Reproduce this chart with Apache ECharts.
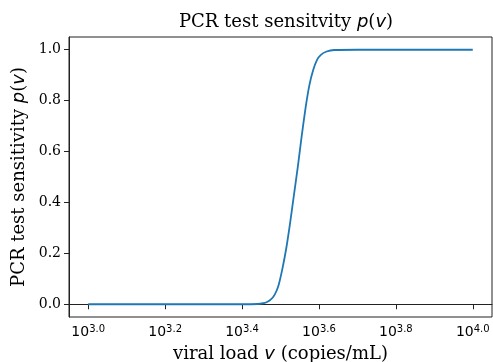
<!DOCTYPE html>
<html>
<head>
<meta charset="utf-8">
<script src="https://cdn.jsdelivr.net/npm/echarts@6/dist/echarts.min.js"></script>
<style>
  html, body { margin: 0; padding: 0; background: #fff; }
  #chart { width: 493px; height: 362px; }
</style>
</head>
<body>
<div id="chart"></div>
<script>
// log10 of viral load (copies/mL) and the sensitivity
var logLoad = [3.00, 3.10, 3.20, 3.30, 3.40, 3.44, 3.455, 3.465, 3.475, 3.485, 3.495, 3.505,
	3.515, 3.525, 3.535, 3.545, 3.555, 3.565, 3.575, 3.585, 3.595, 3.605, 3.62, 3.64, 3.70, 3.80, 3.90, 4.00];
var sensitivity = [0, 0, 0, 0, 0, 0.001, 0.004, 0.009, 0.019, 0.038, 0.075, 0.14,
	0.22, 0.32, 0.43, 0.54, 0.66, 0.77, 0.86, 0.92, 0.96, 0.98, 0.993, 0.999, 1, 1, 1, 1];
var xTicks = [3.0, 3.2, 3.4, 3.6, 3.8, 4.0];
var yTicks = [0.0, 0.2, 0.4, 0.6, 0.8, 1.0];

var points = [];
for (var i = 0; i < logLoad.length; i++) {
	points.push([logLoad[i], sensitivity[i]]);
}

var serif = 'DejaVu Serif';
var nameRich = {
	a: { fontFamily: serif, fontSize: 18, fontWeight: 'normal', color: '#000' },
	m: { fontFamily: 'DejaVu Sans', fontStyle: 'italic', fontWeight: 'normal', fontSize: 18, color: '#000' }
};

var chart = echarts.init(document.getElementById('chart'));
var option = {
	backgroundColor: '#fff',
	animation: false,
	title: {
		text: '{a|PCR test sensitvity }{m|p}{a|(}{m|v}{a|)}',
		left: 281,
		top: 8,
		textAlign: 'center',
		textStyle: { fontWeight: 'normal', rich: nameRich }
	},
	grid: {
		left: 69, right: 1, top: 37, bottom: 45,
		outerBoundsMode: 'none',
		containLabel: false,
		show: true, borderColor: '#222', borderWidth: 1
	},
	xAxis: {
		type: 'value',
		min: 2.95,
		max: 4.05,
		name: '{a|viral load }{m|v}{a| (copies/mL)}',
		nameLocation: 'middle',
		nameGap: 28,
		nameTextStyle: { rich: nameRich },
		axisLine: { show: true, lineStyle: { color: '#222', width: 1 } },
		axisTick: { show: true, length: 5, customValues: xTicks, lineStyle: { color: '#222' } },
		axisLabel: {
			customValues: xTicks,
			margin: 7,
			fontSize: 14,
			formatter: function (v) {
				return '{b|10}{s|' + v.toFixed(1) + '}';
			},
			rich: {
				b: { fontFamily: 'DejaVu Sans', fontSize: 14, color: '#000' },
				s: { fontFamily: 'DejaVu Sans', fontSize: 10, color: '#000', padding: [0, 0, 6, 0] }
			}
		},
		splitLine: { show: false }
	},
	yAxis: {
		type: 'value',
		min: -0.05,
		max: 1.05,
		name: '{a|PCR test sensitivity }{m|p}{a|(}{m|v}{a|)}',
		nameLocation: 'middle',
		nameGap: 35,
		nameRotate: 90,
		nameTextStyle: { rich: nameRich },
		axisLine: { show: true, lineStyle: { color: '#222', width: 1 } },
		axisTick: { show: true, length: 5, customValues: yTicks, lineStyle: { color: '#222' } },
		axisLabel: {
			customValues: yTicks,
			margin: 8,
			fontFamily: serif,
			fontSize: 14,
			color: '#000',
			formatter: function (v) { return v.toFixed(1); }
		},
		splitLine: { show: false }
	},
	series: [{
		type: 'line',
		data: points,
		showSymbol: false,
		smooth: 0.2,
		lineStyle: { color: '#1f77b4', width: 1.8 },
		itemStyle: { color: '#1f77b4' }
	}]
};
chart.setOption(option);
</script>
</body>
</html>
